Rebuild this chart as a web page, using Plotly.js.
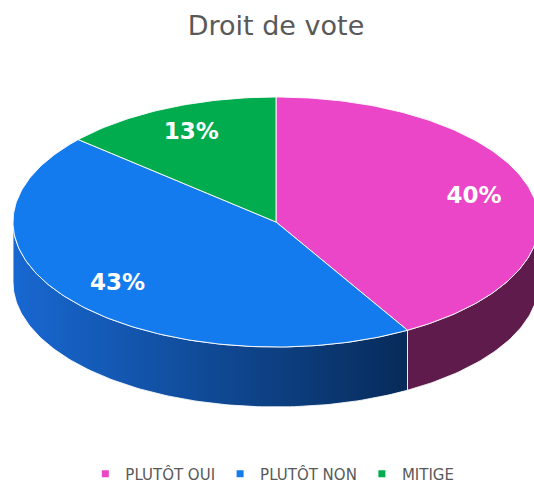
<!DOCTYPE html>
<html><head><meta charset="utf-8">
<script src="https://cdn.plot.ly/plotly-3.0.1.min.js"></script>
<style>html,body{margin:0;padding:0;background:#fff}#chart{width:534px;height:486px}</style>
</head><body><div id="chart"></div>
<script>
// ---- data ----
const categories = ['PLUTÔT OUI', 'PLUTÔT NON', 'MITIGE'];
const values = [40, 43, 13];
const valueLabels = ['40%', '43%', '13%'];

// ---- styles ----
const topColors = ['#EA46C7', '#147BEF', '#00AC4E'];
const sideColorsA = ['#5E1B4C', '#1868D2', '#006B30'];
const sideColorsB = ['#5E1B4C', '#072B5A', '#006B30'];

// ---- geometry (3D pie projection) ----
const CX = 276, CY = 222, RX = 263, RY = 125, DEPTH = 60, LABEL_R = 0.78;
const total = values.reduce((a, b) => a + b, 0);
function pt(a, dy, f) {
  const r = a * Math.PI / 180, k = (f === undefined ? 1 : f);
  return [CX + k * RX * Math.sin(r), CY - k * RY * Math.cos(r) + (dy || 0)];
}
function arc(a1, a2, dy) {
  const n = Math.max(2, Math.ceil(Math.abs(a2 - a1)));
  const xs = [], ys = [];
  for (let i = 0; i <= n; i++) {
    const p = pt(a1 + (a2 - a1) * i / n, dy);
    xs.push(p[0]); ys.push(p[1]);
  }
  return [xs, ys];
}
let start = 0;
const slices = values.map(v => { const a1 = start; start += 360 * v / total; return [a1, start]; });

const traces = [];
// side walls (front half only)
slices.forEach(([a1, a2], i) => {
  const s1 = Math.max(a1, 90), s2 = Math.min(a2, 270);
  if (s1 >= s2) return;
  const [tx, ty] = arc(s1, s2, 0);
  const [bx, by] = arc(s2, s1, DEPTH);
  traces.push({
    type: 'scatter', mode: 'lines', fill: 'toself',
    x: tx.concat(bx, [tx[0]]), y: ty.concat(by, [ty[0]]),
    line: {color: 'rgba(255,255,255,0.85)', width: 1},
    fillcolor: sideColorsA[i],
    fillgradient: {type: 'horizontal', colorscale: [[0, sideColorsA[i]], [1, sideColorsB[i]]]},
    hoverinfo: 'skip', showlegend: false
  });
});
// top faces
slices.forEach(([a1, a2], i) => {
  const [ax, ay] = arc(a1, a2, 0);
  traces.push({
    type: 'scatter', mode: 'lines', fill: 'toself',
    x: [CX].concat(ax, [CX]), y: [CY].concat(ay, [CY]),
    line: {color: 'rgba(255,255,255,0.9)', width: 1},
    fillcolor: topColors[i], hoverinfo: 'skip', showlegend: false
  });
});
// data labels
const lx = [], ly = [];
slices.forEach(([a1, a2]) => { const p = pt((a1 + a2) / 2, 0, LABEL_R); lx.push(p[0]); ly.push(p[1]); });
traces.push({
  type: 'scatter', mode: 'text', x: lx, y: ly, text: valueLabels,
  textposition: 'middle center',
  textfont: {family: 'DejaVu Sans, sans-serif', size: 23, color: '#ffffff', weight: 'bold'},
  hoverinfo: 'skip', showlegend: false
});
// legend entries
categories.forEach((c, i) => {
  traces.push({
    type: 'scatter', mode: 'markers', x: [null], y: [null], name: c,
    marker: {symbol: 'square', size: 7, color: topColors[i]}
  });
});

const layout = {
  width: 534, height: 486,
  margin: {l: 0, r: 0, t: 0, b: 0, pad: 0, autoexpand: false},
  paper_bgcolor: '#ffffff', plot_bgcolor: '#ffffff',
  font: {family: 'DejaVu Sans, sans-serif', color: '#595959'},
  title: {text: 'Droit de vote', x: 276 / 534, xanchor: 'center', y: 1 - 26 / 486, yanchor: 'middle',
          font: {family: 'DejaVu Sans, sans-serif', size: 27, color: '#595959'}},
  xaxis: {range: [0, 534], visible: false, fixedrange: true, automargin: false},
  yaxis: {range: [486, 0], visible: false, fixedrange: true, automargin: false},
  showlegend: true,
  legend: {orientation: 'h', x: 0.51, xanchor: 'center', y: 1 - 474 / 486, yanchor: 'middle',
           font: {family: 'DejaVu Sans, sans-serif', size: 15, color: '#595959'}, itemwidth: 30},
  hovermode: false
};
Plotly.newPlot('chart', traces, layout, {displayModeBar: false, staticPlot: true});
</script>
</body></html>
